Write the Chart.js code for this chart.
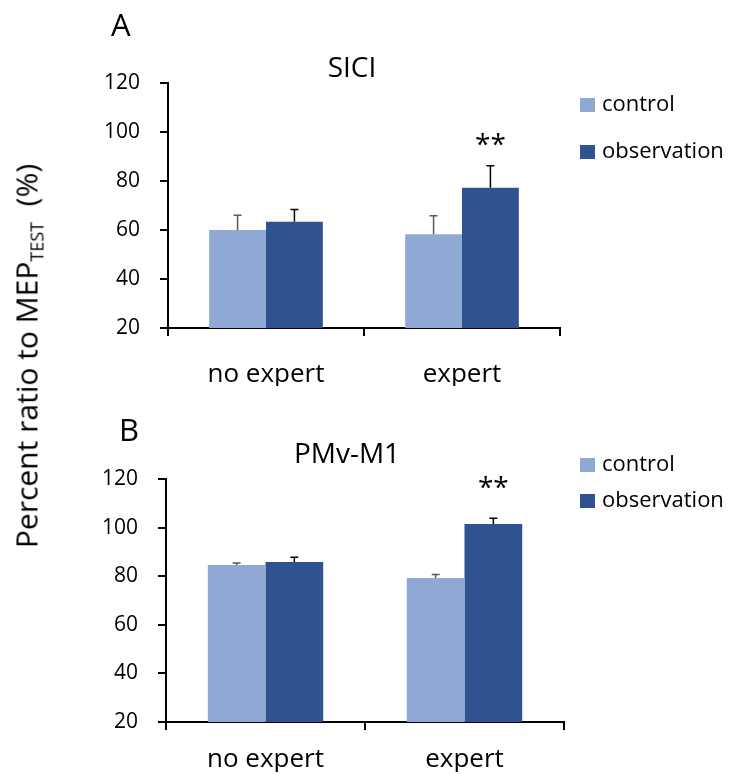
<!DOCTYPE html>
<html>
<head>
<meta charset="utf-8">
<script src="https://cdn.jsdelivr.net/npm/chart.js@4.4.0/dist/chart.umd.min.js"></script>
<style>
  body { margin: 0; background: #fff; }
  #wrap { position: relative; width: 732px; height: 774px; font-family: 'Open Sans', sans-serif; }
  canvas { position: absolute; left: 0; }
  #chartA { top: 0; }
  #chartB { top: 390px; }
  #ylabel {
    position: absolute; left: 27px; top: 356px;
    transform: translate(-50%, -50%) rotate(-90deg);
    font-size: 30px; white-space: nowrap; color: #000;
  }
  #ylabel sub { font-size: 18px; vertical-align: -6px; }
</style>
</head>
<body>
<div id="wrap">
  <canvas id="chartA" width="732" height="390"></canvas>
  <canvas id="chartB" width="732" height="384"></canvas>
  <div id="ylabel">Percent ratio to MEP<sub>TEST</sub>&nbsp;&nbsp;(%)</div>
</div>
<script>
const categories = ['no expert', 'expert'];
const seriesNames = ['control', 'observation'];
const yTicks = [20, 40, 60, 80, 100, 120];

// panel A - SICI
const siciControl = [60.0, 58.3];
const siciObservation = [63.4, 77.2];
const siciControlErr = [6.0, 7.5];
const siciObservationErr = [5.0, 9.0];
const siciStars = ['', '**'];

// panel B - PMv-M1
const pmvControl = [84.6, 79.3];
const pmvObservation = [85.8, 101.5];
const pmvControlErr = [0.8, 1.4];
const pmvObservationErr = [2.0, 2.3];
const pmvStars = ['', '**'];

const lightBlue = '#8FA8D4';
const darkBlue = '#2F5391';
const FONT = 'Open Sans';

Chart.defaults.font.family = FONT;
Chart.defaults.color = '#000';

// error bars, stars, title, panel letter and legend
const panelDecor = {
  id: 'panelDecor',
  afterDatasetsDraw(chart, args, opts) {
    const ctx = chart.ctx;
    const yScale = chart.scales.y;
    ctx.save();
    chart.data.datasets.forEach((ds, i) => {
      const meta = chart.getDatasetMeta(i);
      meta.data.forEach((bar, j) => {
        const top = yScale.getPixelForValue(ds.data[j] + ds.errors[j]);
        ctx.strokeStyle = ds.errColor;
        ctx.lineWidth = 1.5;
        ctx.beginPath();
        ctx.moveTo(bar.x, bar.y);
        ctx.lineTo(bar.x, top);
        ctx.moveTo(bar.x - 4, top);
        ctx.lineTo(bar.x + 4, top);
        ctx.stroke();
      });
    });
    // significance stars over the observation bars
    const obs = chart.data.datasets[1];
    const obsMeta = chart.getDatasetMeta(1);
    ctx.fillStyle = '#000';
    ctx.font = '28px "' + FONT + '"';
    ctx.textAlign = 'center';
    ctx.textBaseline = 'alphabetic';
    opts.stars.forEach((s, j) => {
      if (!s) return;
      const top = yScale.getPixelForValue(obs.data[j] + obs.errors[j]);
      ctx.fillText(s, obsMeta.data[j].x, top - opts.starGap);
    });
    ctx.restore();
  },
  afterDraw(chart, args, opts) {
    const ctx = chart.ctx;
    ctx.save();
    ctx.fillStyle = '#000';
    ctx.textBaseline = 'alphabetic';
    ctx.textAlign = 'center';
    ctx.font = '28px "' + FONT + '"';
    ctx.fillText(opts.title, opts.titleX, opts.titleY);
    ctx.textAlign = 'left';
    ctx.font = '31px "' + FONT + '"';
    ctx.fillText(opts.letter, opts.letterX, opts.letterY);
    // legend
    ctx.font = '22px "' + FONT + '"';
    ctx.textBaseline = 'middle';
    chart.data.datasets.forEach((ds, i) => {
      const y = opts.legendY[i];
      ctx.fillStyle = ds.backgroundColor;
      ctx.fillRect(opts.legendX, y - 7, 15, 14);
      ctx.fillStyle = '#000';
      ctx.fillText(ds.label, opts.legendX + 22, y);
    });
    ctx.restore();
  }
};

function makeDatasets(ctrl, obs, ctrlErr, obsErr) {
  return [
    { label: seriesNames[0], data: ctrl, errors: ctrlErr, backgroundColor: lightBlue, errColor: '#595959' },
    { label: seriesNames[1], data: obs, errors: obsErr, backgroundColor: darkBlue, errColor: '#000' }
  ];
}

function makeScales(yWidth, xHeight, xPad) {
  const grid = { drawOnChartArea: false, drawTicks: true, tickLength: 8, color: '#000', lineWidth: 2 };
  return {
    x: {
      grid: Object.assign({ offset: true }, grid),
      border: { color: '#000', width: 2 },
      ticks: { color: '#000', font: { size: 26 }, padding: xPad },
      afterFit: s => { s.height = xHeight; }
    },
    y: {
      min: 20,
      max: 120,
      afterBuildTicks: s => { s.ticks = yTicks.map(v => ({ value: v })); },
      grid: grid,
      border: { color: '#000', width: 2 },
      ticks: { color: '#000', font: { size: 21 }, padding: 20 },
      afterFit: s => { s.width = yWidth; }
    }
  };
}

function createPanel(id, datasets, padding, yWidth, xHeight, xPad, decor) {
  const ctx = document.getElementById(id).getContext('2d');
  return new Chart(ctx, {
    type: 'bar',
    data: { labels: categories, datasets: datasets },
    options: {
      responsive: false,
      animation: false,
      categoryPercentage: 0.58,
      barPercentage: 1.0,
      layout: { padding: padding },
      scales: makeScales(yWidth, xHeight, xPad),
      plugins: {
        legend: { display: false },
        title: { display: false },
        tooltip: { enabled: false },
        panelDecor: decor
      }
    },
    plugins: [panelDecor]
  });
}

createPanel('chartA',
  makeDatasets(siciControl, siciObservation, siciControlErr, siciObservationErr),
  { top: 83, left: 0, right: 172, bottom: 4 }, 168, 58, 23,
  { title: 'SICI', titleX: 352, titleY: 77, letter: 'A', letterX: 111, letterY: 36,
    legendX: 580, legendY: [105, 152], stars: siciStars, starGap: 12 });

createPanel('chartB',
  makeDatasets(pmvControl, pmvObservation, pmvControlErr, pmvObservationErr),
  { top: 89, left: 0, right: 168, bottom: 2 }, 166, 50, 14,
  { title: 'PMv-M1', titleX: 347, titleY: 73, letter: 'B', letterX: 119, letterY: 51,
    legendX: 580, legendY: [75, 111], stars: pmvStars, starGap: 21 });
</script>
</body>
</html>
